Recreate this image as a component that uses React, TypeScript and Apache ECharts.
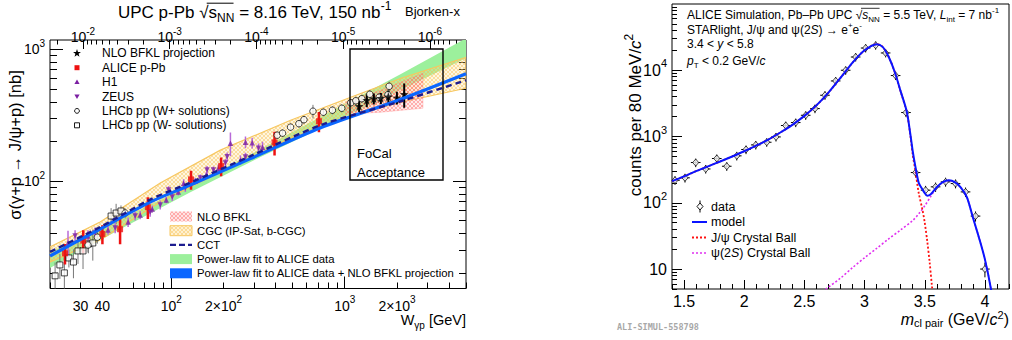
import React, { useEffect, useRef } from 'react';
import * as echarts from 'echarts';

const FONT = "'Liberation Sans', Arial, Helvetica, sans-serif";
const lg = (v: number) => Math.log10(v);

// ======================= LEFT PANEL =======================
const W_MIN = 20;
const W_MAX = 5000;
const SIG_MIN = 15.3;
const SIG_MAX = 1177;
const MJPSI = 3.0969;

const tickMantissas = [1, 2, 3, 4, 5, 6, 7, 8, 9];
const wDecades = [10, 100, 1000];
const wLabelValues = [30, 40, 100, 200, 1000, 2000];
const wLabelTexts = ['30', '40', '10{s|2}', '2×10{s|2}', '10{s|3}', '2×10{s|3}'];
const sigDecades = [10, 100, 1000];
const sigLabelValues = [100, 1000];
const sigLabelTexts = ['10{s|2}', '10{s|3}'];
const bjDecades = [1e-2, 1e-3, 1e-4, 1e-5, 1e-6, 1e-7];
const bjLabelValues = [1e-2, 1e-3, 1e-4, 1e-5, 1e-6];
const bjLabelTexts = ['10{s|-2}', '10{s|-3}', '10{s|-4}', '10{s|-5}', '10{s|-6}'];

// Power-law fit to ALICE data (green band)
const greenW = [20, 50.7, 128.8, 326.9, 830, 2107, 5000];
const greenLo = [21.9, 43.1, 82.3, 152, 273.6, 492.5, 854.5];
const greenHi = [29.0, 51.3, 93.0, 174.8, 337.3, 651, 1212];
// CGC (IP-Sat, b-CGC)
const cgcW = [20, 38.9, 86.4, 191.9, 487.4, 1083, 2107, 5000];
const cgcLo = [24.3, 35.7, 69.3, 117, 211.8, 310.8, 396.7, 506.4];
const cgcHi = [31.6, 48.9, 96.6, 171.7, 289.8, 432.9, 603, 869.8];
// NLO BFKL
const bfklW = [1013, 1615, 2824];
const bfklLo = [321.8, 333.2, 357.3];
const bfklHi = [396.7, 489.2, 658];
// Power-law fit to ALICE + NLO BFKL projection (blue)
const fitW = [20, 38.9, 75.6, 128.8, 286.2, 726.5, 2107, 5000];
const fitSigma = [27.0, 43.3, 69.3, 93.3, 148.1, 254.2, 418, 652];
// CCT
const cctW = [20, 38.9, 75.6, 128.8, 286.2, 726.5, 2107, 5000];
const cctSigma = [29.0, 44.8, 72.4, 97.4, 154.7, 265.6, 403.6, 582.5];

// data points
const aliceW = [24.4, 31.1, 40.1, 50.7, 73.3, 130, 193.8, 393.9, 710];
const aliceSigma = [28.3, 35.3, 39.7, 43.1, 63.5, 103, 129.9, 196.5, 284.8];
const aliceErr = [5, 7, 6.5, 10, 12, 17, 21, 40, 50];

const h1W = [25.4, 33.1, 43.2, 56.4, 66.2, 77.7, 93.6, 109.8, 117.8, 137.7, 159.3, 186.9, 219.3, 250.6, 267.8, 292.7, 335.7];
const h1Sigma = [33.9, 38.3, 42.6, 48.9, 55.3, 61.4, 71.8, 82.6, 96.1, 100, 111, 125.4, 194.1, 144.2, 197.5, 195.1, 181];
const h1Err = [8, 4, 3.5, 4, 4, 4, 4, 5, 7, 6, 6, 8, 40, 12, 20, 18, 18];

const zeusW = [27.9, 36.4, 47.5, 61.9, 75.6, 86.4, 96.5, 101.3, 120.5, 147.1, 160.8, 174.9, 205.2, 209.9, 267.8, 318.4];
const zeusSigma = [38.3, 40.4, 44.1, 54.3, 58.2, 65.8, 85.5, 75.7, 88.5, 105.4, 121.2, 121.1, 136.9, 152.8, 152, 177.8];
const zeusErr = [4, 4, 4, 4, 4.5, 5, 6, 5, 6, 7, 9, 8, 10, 12, 12, 15];

const lhcbPlusW = [33.1, 37.5, 54.2, 408, 438, 487, 544, 582, 656, 753, 849, 961, 1083, 1158, 1254, 1394, 1579, 1773, 1803];
const lhcbPlusSigma = [32.7, 37.5, 57.2, 223, 231, 256.6, 272.6, 292.4, 339, 333, 345, 357, 393, 407, 422, 456, 433, 452, 524];
const lhcbPlusErr = [4, 4, 5, 15, 15, 17, 18, 20, 40, 22, 24, 25, 28, 30, 30, 35, 32, 35, 45];

const lhcbMinusW = [21.4, 22.8, 24.2, 25.7, 27.3, 29.0, 31.0, 33.3, 35.3, 45.0, 48.1, 51.3];
const lhcbMinusSigma = [19.1, 23.1, 20.1, 26.1, 24.3, 29.5, 29.5, 33.3, 33.9, 54.3, 57.2, 59.3];
const lhcbMinusErr = [5, 5, 6, 4, 6, 6, 8, 5, 9, 8, 10, 6];

const bfklProjW = [1210, 1340, 1471, 1615, 1784, 1998, 2202];
const bfklProjSigma = [370, 411, 422, 426, 437, 429, 456];
const bfklProjErr = [35, 48, 40, 41, 50, 48, 95];

// ======================= RIGHT PANEL =======================
const M_MIN = 1.4;
const M_MAX = 4.2;
const CNT_MIN = 5;
const CNT_MAX = 1e5;
const massMajor = [1.5, 2, 2.5, 3, 3.5, 4];
const massMinor = [1.4, 1.6, 1.7, 1.8, 1.9, 2.1, 2.2, 2.3, 2.4, 2.6, 2.7, 2.8, 2.9, 3.1, 3.2, 3.3, 3.4, 3.6, 3.7, 3.8, 3.9, 4.1, 4.2];
const massLabels = ['1.5', '2', '2.5', '3', '3.5', '4'];
const cntDecades = [1, 10, 100, 1000, 10000];
const cntLabelValues = [10, 100, 1000, 10000];
const cntLabelTexts = ['10', '10{s|2}', '10{s|3}', '10{s|4}'];

const massX = [1.425, 1.508, 1.597, 1.68, 1.772, 1.855, 1.938, 2.015, 2.096, 2.187, 2.264, 2.345, 2.428, 2.511, 2.588, 2.671, 2.76, 2.843, 2.926, 3.009, 3.092, 3.175, 3.258, 3.344, 3.424, 3.507, 3.59, 3.673, 3.756, 3.839, 3.922, 4.0];
const counts = [219, 238, 405, 324, 466, 356, 511, 637, 747, 820, 986, 1466, 1625, 2093, 2640, 4200, 6900, 10000, 15850, 21660, 23830, 18240, 8320, 2302, 286, 155, 174, 207, 195, 146, 63, 10];
const countsErr = [33, 36, 60, 48, 70, 53, 76, 95, 110, 120, 145, 215, 240, 310, 390, 620, 1000, 1450, 2300, 3100, 3400, 2600, 1200, 340, 45, 25, 28, 32, 30, 24, 11, 2.5];
const BIN_HALF = 0.04;

const modelX = [1.4, 1.5, 1.6, 1.7, 1.8, 1.9, 2.0, 2.1, 2.2, 2.3, 2.4, 2.5, 2.6, 2.7, 2.8, 2.9, 2.95, 3.0, 3.05, 3.1, 3.15, 3.2, 3.25, 3.3, 3.35, 3.38, 3.4, 3.42, 3.45, 3.48, 3.5, 3.52, 3.55, 3.6, 3.65, 3.7, 3.75, 3.8, 3.85, 3.9, 3.95, 4.0, 4.05, 4.08];
const modelY = [212, 250, 300, 355, 420, 500, 600, 730, 900, 1150, 1500, 2050, 2950, 4600, 7700, 13000, 16500, 20000, 23000, 24800, 22500, 16000, 9500, 4800, 2400, 1100, 600, 370, 200, 160, 140, 128, 135, 172, 205, 218, 205, 170, 122, 60, 30, 14, 5, 2];

const jpsiX = [1.4, 1.5, 1.6, 1.7, 1.8, 1.9, 2.0, 2.1, 2.2, 2.3, 2.4, 2.5, 2.6, 2.7, 2.8, 2.9, 2.95, 3.0, 3.05, 3.1, 3.15, 3.2, 3.25, 3.3, 3.35, 3.38, 3.4, 3.42, 3.45, 3.48, 3.5, 3.52, 3.54, 3.56, 3.58];
const jpsiY = [212, 250, 300, 355, 420, 500, 600, 730, 900, 1150, 1500, 2050, 2950, 4600, 7700, 13000, 16500, 20000, 23000, 24800, 22500, 16000, 9500, 4760, 2350, 1050, 530, 320, 140, 80, 50, 27, 13, 5.5, 2.5];

const psi2sX = [2.6, 2.68, 2.8, 2.9, 3.0, 3.1, 3.2, 3.3, 3.4, 3.45, 3.5, 3.55, 3.6, 3.65, 3.7, 3.75, 3.8, 3.85, 3.9, 3.95, 4.0, 4.05, 4.08];
const psi2sY = [3.8, 5, 7.3, 10.5, 14.8, 20.5, 28.5, 39, 54, 68, 90, 125, 170, 203, 217, 205, 170, 122, 60, 30, 14, 5, 2];

// ======================= HELPERS =======================
let measureCtx: CanvasRenderingContext2D | null = null;
const measure = (t: string, fs: number, italic = false) => {
  if (!measureCtx) measureCtx = document.createElement('canvas').getContext('2d');
  if (!measureCtx) return t.length * fs * 0.55;
  measureCtx.font = `${italic ? 'italic ' : ''}${fs}px ${FONT}`;
  return measureCtx.measureText(t).width;
};

const makePattern = (size: number, color: string, width: number, kinds: string[]) => {
  const c = document.createElement('canvas');
  c.width = size;
  c.height = size;
  const ctx = c.getContext('2d');
  if (ctx) {
    ctx.strokeStyle = color;
    ctx.lineWidth = width;
    ctx.beginPath();
    kinds.forEach((k) => {
      if (k === '/') { ctx.moveTo(0, size); ctx.lineTo(size, 0); ctx.moveTo(-1, 1); ctx.lineTo(1, -1); ctx.moveTo(size - 1, size + 1); ctx.lineTo(size + 1, size - 1); }
      if (k === '\\') { ctx.moveTo(0, 0); ctx.lineTo(size, size); ctx.moveTo(size - 1, -1); ctx.lineTo(size + 1, 1); ctx.moveTo(-1, size - 1); ctx.lineTo(1, size + 1); }
      if (k === '-') { ctx.moveTo(0, size / 2); ctx.lineTo(size, size / 2); }
      if (k === '|') { ctx.moveTo(size / 2, 0); ctx.lineTo(size / 2, size); }
    });
    ctx.stroke();
  }
  return { image: c, repeat: 'repeat', imageWidth: size, imageHeight: size };
};

const pick = (vals: number[], texts: string[], tr: (v: number) => number) => (v: number) => {
  let best = 0;
  let bd = Infinity;
  vals.forEach((x, i) => {
    const d = Math.abs(tr(x) - v);
    if (d < bd) { bd = d; best = i; }
  });
  return texts[best];
};

const decadeTicks = (decades: number[], mants: number[], lo: number, hi: number) => {
  const out: number[] = [];
  decades.forEach((d) => mants.forEach((m) => { const v = m * d; if (v >= lo * 0.9999 && v <= hi * 1.0001) out.push(v); }));
  return out;
};

const tickAxis = (gridIndex: number, position: string, min: number, max: number, values: number[], len: number, extra: any = {}) => ({
  type: 'value',
  gridIndex,
  position,
  min,
  max,
  axisLine: { show: false },
  splitLine: { show: false },
  axisTick: { show: true, inside: true, length: len, customValues: values, lineStyle: { color: '#000', width: 1 } },
  axisLabel: { show: false },
  ...extra,
});

const labelStyle = (size: number, margin: number, customValues: number[], formatter: any, lh?: number, extra: any = {}) => ({
  show: true,
  inside: false,
  margin,
  customValues,
  formatter,
  color: '#000',
  fontSize: size,
  fontFamily: FONT,
  lineHeight: lh ?? Math.round(size * 1.55),
  rich: { s: { fontSize: Math.round(size * 0.7), lineHeight: Math.round(size * 0.7), verticalAlign: 'top', fontFamily: FONT } },
  ...extra,
});

const richFor = (fs: number) => ({
  s: { fontSize: Math.round(fs * 0.68), lineHeight: Math.round(fs * 0.68), verticalAlign: 'top', fontFamily: FONT },
  d: { fontSize: Math.round(fs * 0.68), lineHeight: Math.round(fs * 0.68), verticalAlign: 'bottom', fontFamily: FONT },
  i: { fontStyle: 'italic', fontSize: fs, fontFamily: FONT },
});

const txt = (text: string, x: number, y: number, fs: number, extra: any = {}, elExtra: any = {}) => ({
  type: 'text',
  silent: true,
  z: 100,
  ...elExtra,
  style: {
    text,
    x,
    y,
    fill: '#000',
    fontSize: fs,
    fontFamily: FONT,
    lineHeight: Math.round(fs * 1.4),
    align: 'left',
    textAlign: 'left',
    verticalAlign: 'middle',
    textVerticalAlign: 'middle',
    rich: richFor(fs),
    ...extra,
  },
});

const hline = (x1: number, x2: number, y: number, w = 1) => ({
  type: 'line', silent: true, z: 100, shape: { x1, y1: y, x2, y2: y }, style: { stroke: '#000', lineWidth: w },
});

function band(xs: number[], lo: number[], hi: number[], style: any) {
  const data = xs.map((w, i) => [lg(w), lg(lo[i]), lg(hi[i])]);
  return {
    type: 'custom',
    xAxisIndex: 0,
    yAxisIndex: 0,
    clip: true,
    silent: true,
    data,
    encode: { x: 0, y: [1, 2] },
    renderItem: (params: any, api: any) => {
      if (params.dataIndex !== 0) return null;
      const up = data.map((d) => api.coord([d[0], d[2]]));
      const dn = data.map((d) => api.coord([d[0], d[1]])).reverse();
      return { type: 'polygon', shape: { points: up.concat(dn) }, style };
    },
  };
}

function vErr(xs: number[], ys: number[], errs: number[], color: string, width: number) {
  return {
    type: 'custom',
    xAxisIndex: 0,
    yAxisIndex: 0,
    clip: true,
    silent: true,
    data: xs.map((x, i) => [lg(x), lg(Math.max(ys[i] - errs[i], 1)), lg(ys[i] + errs[i])]),
    encode: { x: 0, y: [1, 2] },
    renderItem: (params: any, api: any) => {
      const a = api.coord([api.value(0), api.value(1)]);
      const b = api.coord([api.value(0), api.value(2)]);
      return { type: 'line', shape: { x1: a[0], y1: a[1], x2: b[0], y2: b[1] }, style: { stroke: color, lineWidth: width } };
    },
  };
}

function pts(xs: number[], ys: number[], symbol: string, size: any, itemStyle: any) {
  return {
    type: 'scatter',
    xAxisIndex: 0,
    yAxisIndex: 0,
    silent: true,
    symbol,
    symbolSize: size,
    itemStyle,
    data: xs.map((x, i) => [lg(x), lg(ys[i])]),
  };
}

function logLine(xs: number[], ys: number[], lineStyle: any, xi: number, logX: boolean) {
  return {
    type: 'line',
    xAxisIndex: xi,
    yAxisIndex: xi,
    silent: true,
    showSymbol: false,
    symbol: 'none',
    smooth: 0.3,
    clip: true,
    lineStyle,
    data: xs.map((x, i) => [logX ? lg(x) : x, lg(ys[i])]),
  };
}

const STAR = 'path://M0,-10L2.35,-3.24L9.51,-3.09L3.8,1.24L5.88,8.09L0,4L-5.88,8.09L-3.8,1.24L-9.51,-3.09L-2.35,-3.24Z';
const starPts = (cx: number, cy: number, s: number) => {
  const p = [[0, -10], [2.35, -3.24], [9.51, -3.09], [3.8, 1.24], [5.88, 8.09], [0, 4], [-5.88, 8.09], [-3.8, 1.24], [-9.51, -3.09], [-2.35, -3.24]];
  return p.map(([x, y]) => [cx + x * s, cy + y * s]);
};

const GREEN = '#9cf09c';
const BLUE = '#0a66ff';
const NAVY = '#1c1c8f';
const PURPLE = '#7b1fa2';
const VIOLET = '#b86ad8';
const RED = '#ee1111';
const CGC_FILL = 'rgba(255,225,150,0.3)';
const CGC_LINE = '#f7c760';
const BFKL_FILL = 'rgba(255,175,175,0.25)';

function buildOption() {
  const bjMin = -lg((MJPSI * MJPSI) / (W_MIN * W_MIN));
  const bjMax = -lg((MJPSI * MJPSI) / (W_MAX * W_MAX));

  const wMajor = decadeTicks(wDecades, [1], W_MIN, W_MAX).map(lg);
  const wMinor = decadeTicks(wDecades, tickMantissas.slice(1), W_MIN, W_MAX).map(lg);
  const sMajor = decadeTicks(sigDecades, [1], SIG_MIN, SIG_MAX).map(lg);
  const sMinor = decadeTicks(sigDecades, tickMantissas.slice(1), SIG_MIN, SIG_MAX).map(lg);
  const xMinX = (MJPSI * MJPSI) / (W_MAX * W_MAX);
  const xMaxX = (MJPSI * MJPSI) / (W_MIN * W_MIN);
  const bjMajor = decadeTicks(bjDecades, [1], xMinX, xMaxX).map((v) => -lg(v));
  const bjMinor = decadeTicks(bjDecades, tickMantissas.slice(1), xMinX, xMaxX).map((v) => -lg(v));

  const cMajor = decadeTicks(cntDecades, [1], CNT_MIN, CNT_MAX).map(lg);
  const cMinor = decadeTicks(cntDecades, tickMantissas.slice(1), CNT_MIN, CNT_MAX).map(lg);

  const cgcPattern = makePattern(4, 'rgba(245,185,70,0.6)', 0.7, ['/', '\\']);
  const bfklPattern = makePattern(4, 'rgba(255,90,90,0.6)', 0.7, ['/', '\\']);

  const xAxis: any[] = [
    tickAxis(0, 'bottom', lg(W_MIN), lg(W_MAX), wMajor, 12, {
      axisLabel: labelStyle(14, 6, wLabelValues.map(lg), pick(wLabelValues, wLabelTexts, lg), 22, { verticalAlign: 'top' }),
    }),
    tickAxis(0, 'bottom', lg(W_MIN), lg(W_MAX), wMinor, 6),
    tickAxis(0, 'top', bjMin, bjMax, bjMajor, 9, {
      axisLabel: labelStyle(14, 14, bjLabelValues.map((v) => -lg(v)), pick(bjLabelValues, bjLabelTexts, (v) => -lg(v)), 22, { verticalAlign: 'top' }),
    }),
    tickAxis(0, 'top', bjMin, bjMax, bjMinor, 4.5),
    tickAxis(1, 'bottom', M_MIN, M_MAX, massMajor, 9, {
      axisLabel: labelStyle(16, 4, massMajor, pick(massMajor, massLabels, (v) => v), 16),
    }),
    tickAxis(1, 'bottom', M_MIN, M_MAX, massMinor, 5),
  ];
  const yAxis: any[] = [
    tickAxis(0, 'left', lg(SIG_MIN), lg(SIG_MAX), sMajor, 13, {
      axisLabel: labelStyle(14, 5, sigLabelValues.map(lg), pick(sigLabelValues, sigLabelTexts, lg)),
    }),
    tickAxis(0, 'left', lg(SIG_MIN), lg(SIG_MAX), sMinor, 7),
    tickAxis(0, 'right', lg(SIG_MIN), lg(SIG_MAX), sMajor, 13),
    tickAxis(0, 'right', lg(SIG_MIN), lg(SIG_MAX), sMinor, 7),
    tickAxis(1, 'left', lg(CNT_MIN), lg(CNT_MAX), cMajor, 10, {
      axisLabel: labelStyle(16, 5, cntLabelValues.map(lg), pick(cntLabelValues, cntLabelTexts, lg)),
    }),
    tickAxis(1, 'left', lg(CNT_MIN), lg(CNT_MAX), cMinor, 5),
  ];

  const rightX = 4;
  const rightY = 4;

  const series: any[] = [
    band(greenW, greenLo, greenHi, { fill: GREEN, stroke: 'none' }),
    band(cgcW, cgcLo, cgcHi, { fill: CGC_FILL, stroke: 'none' }),
    band(cgcW, cgcLo, cgcHi, { fill: cgcPattern, stroke: CGC_LINE, lineWidth: 1.2 }),
    band(bfklW, bfklLo, bfklHi, { fill: BFKL_FILL, stroke: 'none' }),
    band(bfklW, bfklLo, bfklHi, { fill: bfklPattern, stroke: 'rgba(255,120,120,0.5)', lineWidth: 0.6 }),
    logLine(fitW, fitSigma, { color: BLUE, width: 3.2 }, 0, true),
    logLine(cctW, cctSigma, { color: NAVY, width: 2.4, type: [6, 4] }, 0, true),
    vErr(lhcbMinusW, lhcbMinusSigma, lhcbMinusErr, '#777', 1),
    vErr(lhcbPlusW, lhcbPlusSigma, lhcbPlusErr, '#777', 1),
    vErr(zeusW, zeusSigma, zeusErr, VIOLET, 1.5),
    vErr(h1W, h1Sigma, h1Err, VIOLET, 1.5),
    vErr(aliceW, aliceSigma, aliceErr, RED, 2.5),
    vErr(bfklProjW, bfklProjSigma, bfklProjErr, '#000', 2),
    pts(lhcbMinusW, lhcbMinusSigma, 'rect', 6, { color: '#fff', borderColor: '#000', borderWidth: 0.9 }),
    pts(lhcbPlusW, lhcbPlusSigma, 'circle', 6.5, { color: '#fff', borderColor: '#000', borderWidth: 0.9 }),
    pts(zeusW, zeusSigma, 'path://M-5,-4L5,-4L0,5Z', 5.5, { color: PURPLE }),
    pts(h1W, h1Sigma, 'triangle', 5.5, { color: PURPLE }),
    pts(aliceW, aliceSigma, 'rect', 6, { color: RED }),
    pts(bfklProjW, bfklProjSigma, STAR, 9, { color: '#000' }),
    // right panel
    { ...logLine(psi2sX, psi2sY, { color: '#e030f0', width: 1.6, type: [2, 2] }, rightX, false), yAxisIndex: rightY },
    { ...logLine(jpsiX, jpsiY, { color: '#ff1010', width: 1.8, type: [2, 2] }, rightX, false), yAxisIndex: rightY },
    { ...logLine(modelX, modelY, { color: '#0a14ff', width: 2 }, rightX, false), yAxisIndex: rightY },
    {
      type: 'custom',
      xAxisIndex: rightX,
      yAxisIndex: rightY,
      clip: true,
      silent: true,
      data: massX.map((m, i) => [m, lg(counts[i]), lg(Math.max(counts[i] - countsErr[i], 0.1)), lg(counts[i] + countsErr[i])]),
      encode: { x: 0, y: 1 },
      renderItem: (params: any, api: any) => {
        const m = api.value(0);
        const c = api.coord([m, api.value(1)]);
        const l = api.coord([m - BIN_HALF, api.value(1)]);
        const r = api.coord([m + BIN_HALF, api.value(1)]);
        const lo = api.coord([m, api.value(2)]);
        const hi = api.coord([m, api.value(3)]);
        return {
          type: 'group',
          children: [
            { type: 'line', shape: { x1: l[0], y1: c[1], x2: r[0], y2: c[1] }, style: { stroke: '#000', lineWidth: 1 } },
            { type: 'line', shape: { x1: c[0], y1: lo[1], x2: c[0], y2: hi[1] }, style: { stroke: '#000', lineWidth: 1 } },
          ],
        };
      },
    },
    {
      type: 'scatter',
      xAxisIndex: rightX,
      yAxisIndex: rightY,
      silent: true,
      symbol: 'diamond',
      symbolSize: [6, 7],
      itemStyle: { color: '#fff', borderColor: '#000', borderWidth: 0.9 },
      data: massX.map((m, i) => [m, lg(counts[i])]),
    },
  ];

  const legY = [53.3, 67.7, 82.1, 96.5, 110.9, 125.3];
  const legTexts = ['NLO BFKL projection', 'ALICE p-Pb', 'H1', 'ZEUS', 'LHCb pp (W+ solutions)', 'LHCb pp (W- solutions)'];
  const leg2Y = [216.5, 230.7, 244.9, 259.1, 273.3];
  const leg2Texts = ['NLO BFKL', 'CGC (IP-Sat, b-CGC)', 'CCT', 'Power-law fit to ALICE data', 'Power-law fit to ALICE data + NLO BFKL projection'];
  const rLegY = [206.5, 222, 237.5, 253];

  // overlines for the square-root signs
  const t1x = 118;
  const t1fs = 17;
  const ov1x = t1x + measure('UPC p-Pb ', t1fs) + measure('√', t1fs) * 0.8;
  const ov1w = measure('s', t1fs) + measure('NN', Math.round(t1fs * 0.68)) + 1;
  const t2x = 687;
  const t2fs = 12;
  const ov2x = t2x + measure('ALICE Simulation, Pb–Pb UPC ', t2fs) + measure('√', t2fs) * 0.8;
  const ov2w = measure('s', t2fs, true) + measure('NN', Math.round(t2fs * 0.68)) + 1;

  const graphic: any[] = [
    // left panel titles
    txt('UPC p-Pb √s{d|NN} = 8.16 TeV, 150 nb{s|-1}', t1x, 12, t1fs),
    hline(ov1x, ov1x + ov1w, 3.2, 1),
    txt('Bjorken-x', 405, 11, 13),
    txt('W{d|γp} [GeV]', 466, 320, 14.5, { align: 'right', textAlign: 'right' }),
    txt('σ(γ+p → J/ψ+p) [nb]', 0, 0, 16.5, { align: 'center', textAlign: 'center' }, { x: 15, y: 145, rotation: Math.PI / 2 }),
    // FoCal box
    { type: 'rect', silent: true, z: 100, shape: { x: 350, y: 49, width: 93, height: 131 }, style: { fill: 'none', stroke: '#000', lineWidth: 1.4 } },
    txt('FoCal', 357, 153, 13),
    txt('Acceptance', 357, 172, 13),
    // upper legend
    { type: 'polygon', silent: true, z: 100, shape: { points: starPts(77, legY[0], 0.42) }, style: { fill: '#000' } },
    { type: 'rect', silent: true, z: 100, shape: { x: 74.5, y: legY[1] - 2.5, width: 5, height: 5 }, style: { fill: RED } },
    { type: 'polygon', silent: true, z: 100, shape: { points: [[77, legY[2] - 2.6], [79.6, legY[2] + 2], [74.4, legY[2] + 2]] }, style: { fill: PURPLE } },
    { type: 'polygon', silent: true, z: 100, shape: { points: [[77, legY[3] + 2.6], [79.6, legY[3] - 2], [74.4, legY[3] - 2]] }, style: { fill: PURPLE } },
    { type: 'circle', silent: true, z: 100, shape: { cx: 77, cy: legY[4], r: 2.4 }, style: { fill: '#fff', stroke: '#000', lineWidth: 0.9 } },
    { type: 'rect', silent: true, z: 100, shape: { x: 74.5, y: legY[5] - 2.5, width: 5, height: 5 }, style: { fill: '#fff', stroke: '#000', lineWidth: 0.9 } },
    ...legTexts.map((t, i) => txt(t, 102, legY[i], 12)),
    // lower legend
    { type: 'rect', silent: true, z: 100, shape: { x: 170, y: leg2Y[0] - 5, width: 22, height: 10 }, style: { fill: 'rgba(255,175,175,0.35)' } },
    { type: 'rect', silent: true, z: 100, shape: { x: 170, y: leg2Y[0] - 5, width: 22, height: 10 }, style: { fill: bfklPattern } },
    { type: 'rect', silent: true, z: 100, shape: { x: 170, y: leg2Y[1] - 5, width: 22, height: 10 }, style: { fill: 'rgba(255,225,150,0.45)' } },
    { type: 'rect', silent: true, z: 100, shape: { x: 170, y: leg2Y[1] - 5, width: 22, height: 10 }, style: { fill: cgcPattern, stroke: CGC_LINE, lineWidth: 1 } },
    { type: 'line', silent: true, z: 100, shape: { x1: 170, y1: leg2Y[2], x2: 192, y2: leg2Y[2] }, style: { stroke: NAVY, lineWidth: 2.4, lineDash: [6, 3] } },
    { type: 'rect', silent: true, z: 100, shape: { x: 170, y: leg2Y[3] - 5, width: 22, height: 10 }, style: { fill: GREEN } },
    { type: 'rect', silent: true, z: 100, shape: { x: 170, y: leg2Y[4] - 5, width: 22, height: 10 }, style: { fill: BLUE } },
    ...leg2Texts.map((t, i) => txt(t, 197, leg2Y[i], 11.3)),

    // right panel texts
    txt('ALICE Simulation, Pb–Pb UPC √{i|s}{d|NN} = 5.5 TeV, {i|L}{d|int} = 7 nb{s|-1}', t2x, 15, t2fs),
    hline(ov2x, ov2x + ov2w, 8.3, 0.8),
    txt('STARlight, J/ψ and ψ(2{i|S}) → e{s|+}e{s|-}', 687, 29.5, 12),
    txt('3.4 < {i|y} < 5.8', 687, 44, 12),
    txt('{i|p}{d|T} < 0.2 GeV/{i|c}', 687, 61, 12),
    // right legend
    { type: 'line', silent: true, z: 100, shape: { x1: 700, y1: rLegY[0] - 6, x2: 700, y2: rLegY[0] + 6 }, style: { stroke: '#000', lineWidth: 1 } },
    { type: 'polygon', silent: true, z: 101, shape: { points: [[700, rLegY[0] - 3.5], [703, rLegY[0]], [700, rLegY[0] + 3.5], [697, rLegY[0]]] }, style: { fill: '#fff', stroke: '#000', lineWidth: 0.9 } },
    { type: 'line', silent: true, z: 100, shape: { x1: 692, y1: rLegY[1], x2: 707, y2: rLegY[1] }, style: { stroke: '#0a14ff', lineWidth: 2 } },
    { type: 'line', silent: true, z: 100, shape: { x1: 692, y1: rLegY[2], x2: 707, y2: rLegY[2] }, style: { stroke: '#ff1010', lineWidth: 1.8, lineDash: [2, 2] } },
    { type: 'line', silent: true, z: 100, shape: { x1: 692, y1: rLegY[3], x2: 707, y2: rLegY[3] }, style: { stroke: '#e030f0', lineWidth: 1.6, lineDash: [2, 2] } },
    txt('data', 711, rLegY[0], 12.5),
    txt('model', 711, rLegY[1], 12.5),
    txt('J/ψ Crystal Ball', 711, rLegY[2], 12.5),
    txt('ψ(2{i|S}) Crystal Ball', 711, rLegY[3], 12.5),
    txt('counts per 80 MeV/{i|c}{s|2}', 0, 0, 17, { align: 'center', textAlign: 'center' }, { x: 635, y: 115, rotation: Math.PI / 2 }),
    txt('{i|m}{d|cl pair} (GeV/{i|c}{s|2})', 1009, 319, 16, { align: 'right', textAlign: 'right', lineHeight: 19 }),
    txt('ALI-SIMUL-558798', 617, 327, 8.5, { fontFamily: "'DejaVu Sans Mono', monospace", fontWeight: 'bold', fill: '#a8a8a8', rich: {} }),
  ];

  return {
    animation: false,
    backgroundColor: '#fff',
    textStyle: { fontFamily: FONT },
    grid: [
      { left: 50, top: 40, width: 416, height: 248.5, show: true, borderColor: '#000', borderWidth: 1, backgroundColor: 'transparent' },
      { left: 672, top: 4, width: 337, height: 285, show: true, borderColor: '#000', borderWidth: 1, backgroundColor: 'transparent' },
    ],
    xAxis,
    yAxis,
    series,
    graphic: { elements: graphic },
  };
}

export default function App() {
  const ref = useRef<HTMLDivElement>(null);
  useEffect(() => {
    if (!ref.current) return;
    const chart = echarts.init(ref.current, null, { renderer: 'svg' });
    chart.setOption(buildOption() as any);
    return () => chart.dispose();
  }, []);
  return <div ref={ref} style={{ position: 'absolute', left: 0, top: 0, width: 1012, height: 340, background: '#fff' }} />;
}
